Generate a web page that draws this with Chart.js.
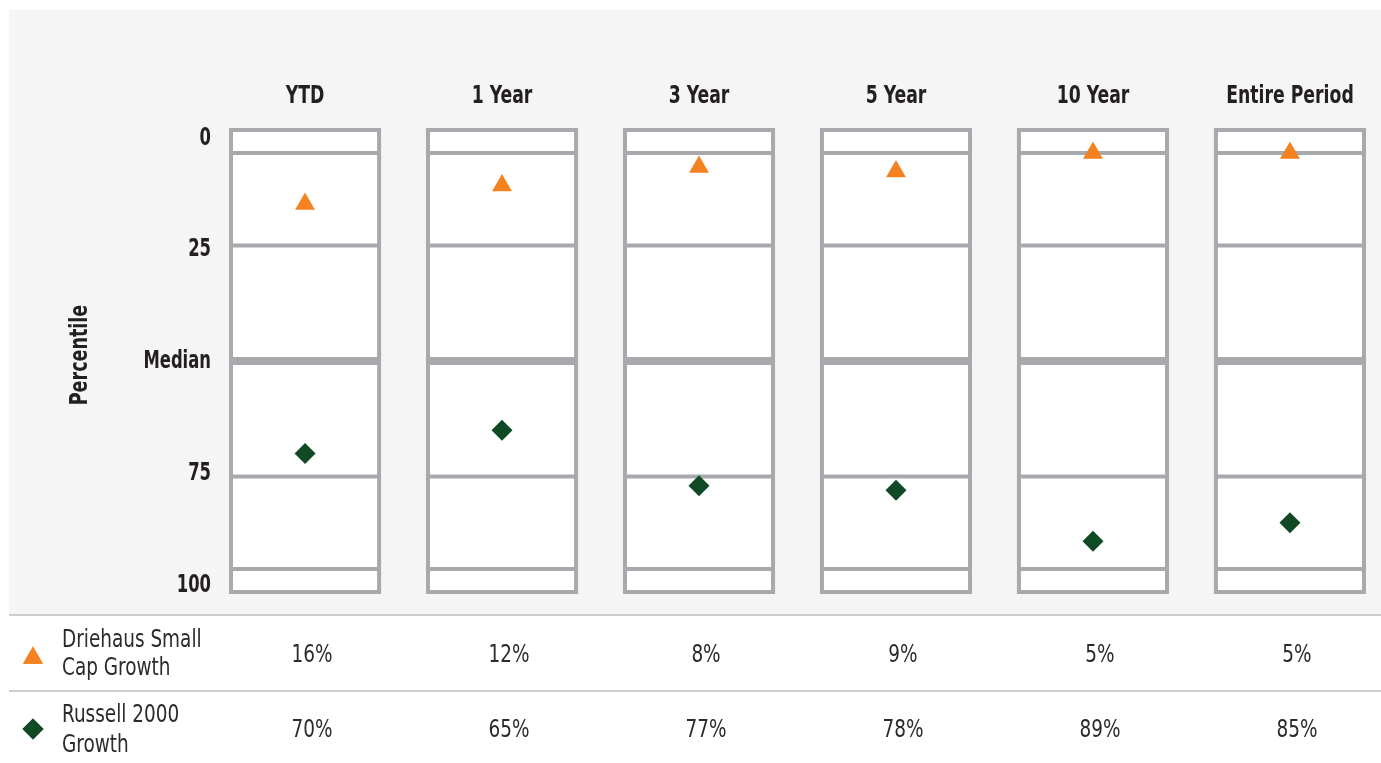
<!DOCTYPE html>
<html>
<head>
<meta charset="utf-8">
<script src="https://cdn.jsdelivr.net/npm/chart.js@4.4.1/dist/chart.umd.min.js"></script>
<style>
  html, body { margin: 0; padding: 0; background: #fff; }
  #wrap { width: 1381px; height: 763px; }
</style>
</head>
<body>
<div id="wrap"><canvas id="rankChart"></canvas></div>
<script>
const periods = ["YTD", "1 Year", "3 Year", "5 Year", "10 Year", "Entire Period"];
const driehaus = [16, 12, 8, 9, 5, 5];
const russell = [70, 65, 77, 78, 89, 85];
const seriesNames = [["Driehaus Small", "Cap Growth"], ["Russell 2000", "Growth"]];
const yTickValues = [0, 25, 50, 75, 100];
const yTickLabels = ["0", "25", "Median", "75", "100"];
const bandLines = [5, 25, 50, 75, 95];

const ORANGE = "#f58220";
const GREEN = "#0f4a24";
const BOX_GRAY = "#a7a9ac";
const TEXT = "#231f20";
const FONT = "'DejaVu Sans Condensed', 'Liberation Sans Narrow', sans-serif";
const boxHalf = 0.386; // half box width, in category units

// condensed text: squeeze horizontally to mimic the narrow face
function txt(ctx, s, x, y, align, sx) {
  ctx.save();
  ctx.translate(x, y);
  ctx.scale(sx, 1);
  ctx.textAlign = align;
  ctx.fillText(s, 0, 0);
  ctx.restore();
}

const panelPlugin = {
  id: "panel",
  beforeDraw(chart) {
    const { ctx, width, height } = chart;
    ctx.save();
    ctx.fillStyle = "#fff";
    ctx.fillRect(0, 0, width, height);
    ctx.fillStyle = "#f5f5f5";
    ctx.fillRect(9, 10, width - 9, 604);
    ctx.strokeStyle = "#cdcdcd";
    ctx.lineWidth = 2;
    [615, 691].forEach(yy => {
      ctx.beginPath();
      ctx.moveTo(9, yy);
      ctx.lineTo(width, yy);
      ctx.stroke();
    });
    ctx.restore();
  },
  beforeDatasetsDraw(chart) {
    const { ctx } = chart;
    const x = chart.scales.x, y = chart.scales.y;
    const t = y.getPixelForValue(0), b = y.getPixelForValue(100);
    ctx.save();
    periods.forEach((p, i) => {
      const l = x.getPixelForValue(i - boxHalf) + 2;
      const r = x.getPixelForValue(i + boxHalf) - 2;
      ctx.fillStyle = "#fff";
      ctx.fillRect(l, t, r - l, b - t);
      ctx.strokeStyle = BOX_GRAY;
      bandLines.forEach(v => {
        const yy = y.getPixelForValue(v);
        ctx.lineWidth = v === 50 ? 8 : 4;
        ctx.beginPath();
        ctx.moveTo(l, yy);
        ctx.lineTo(r, yy);
        ctx.stroke();
      });
      ctx.lineWidth = 4;
      ctx.strokeRect(l, t, r - l, b - t);
    });
    ctx.restore();
  },
  afterDraw(chart) {
    const { ctx } = chart;
    const x = chart.scales.x, y = chart.scales.y;
    ctx.save();
    ctx.fillStyle = TEXT;
    ctx.textBaseline = "middle";

    // column headers
    ctx.font = "bold 24px " + FONT;
    periods.forEach((p, i) => txt(ctx, p, x.getPixelForValue(i), 97, "center", 0.8));

    // y labels (slightly pulled toward the median)
    ctx.font = "bold 24px " + FONT;
    yTickValues.forEach((v, k) => {
      txt(ctx, yTickLabels[k], 211, y.getPixelForValue(50 + (v - 50) * 0.968) + 1, "right", 0.76);
    });

    // axis title
    ctx.save();
    ctx.font = "bold 25px " + FONT;
    ctx.translate(80, 355);
    ctx.rotate(-Math.PI / 2);
    txt(ctx, "Percentile", 0, 0, "center", 0.78);
    ctx.restore();

    // table
    const rows = [
      { vals: driehaus, style: "triangle", color: ORANGE, r: 11.5, my: 658, ly: [640, 668], vy: 655 },
      { vals: russell, style: "rectRot", color: GREEN, r: 10.5, my: 729, ly: [715, 745], vy: 730 }
    ];
    rows.forEach((row, k) => {
      ctx.fillStyle = row.color;
      Chart.helpers.drawPoint(ctx, { pointStyle: row.style, radius: row.r, rotation: 0, borderWidth: 0 }, 33, row.my);
      ctx.fill();
      ctx.fillStyle = "#2b2b2b";
      ctx.font = "25px " + FONT;
      seriesNames[k].forEach((line, j) => txt(ctx, line, 62, row.ly[j], "left", 0.82));
      row.vals.forEach((v, i) => txt(ctx, v + "%", x.getPixelForValue(i) + 7, row.vy, "center", 0.82));
    });
    ctx.restore();
  }
};

new Chart(document.getElementById("rankChart"), {
  type: "scatter",
  data: {
    datasets: [
      {
        label: "Driehaus Small Cap Growth",
        data: driehaus.map((v, i) => ({ x: i, y: v })),
        pointStyle: "triangle",
        pointRadius: 11.5,
        pointHoverRadius: 11.5,
        backgroundColor: ORANGE,
        borderWidth: 0,
        clip: false
      },
      {
        label: "Russell 2000 Growth",
        data: russell.map((v, i) => ({ x: i, y: v })),
        pointStyle: "rectRot",
        pointRadius: 10.5,
        pointHoverRadius: 10.5,
        backgroundColor: GREEN,
        borderWidth: 0,
        clip: false
      }
    ]
  },
  options: {
    responsive: true,
    maintainAspectRatio: false,
    animation: false,
    devicePixelRatio: 1,
    layout: { padding: { left: 229, right: 15, top: 130, bottom: 171 } },
    plugins: { legend: { display: false }, tooltip: { enabled: false } },
    scales: {
      x: { type: "linear", min: -boxHalf, max: periods.length - 1 + boxHalf, display: false },
      y: { min: 0, max: 100, reverse: true, display: false }
    }
  },
  plugins: [panelPlugin]
});
</script>
</body>
</html>
